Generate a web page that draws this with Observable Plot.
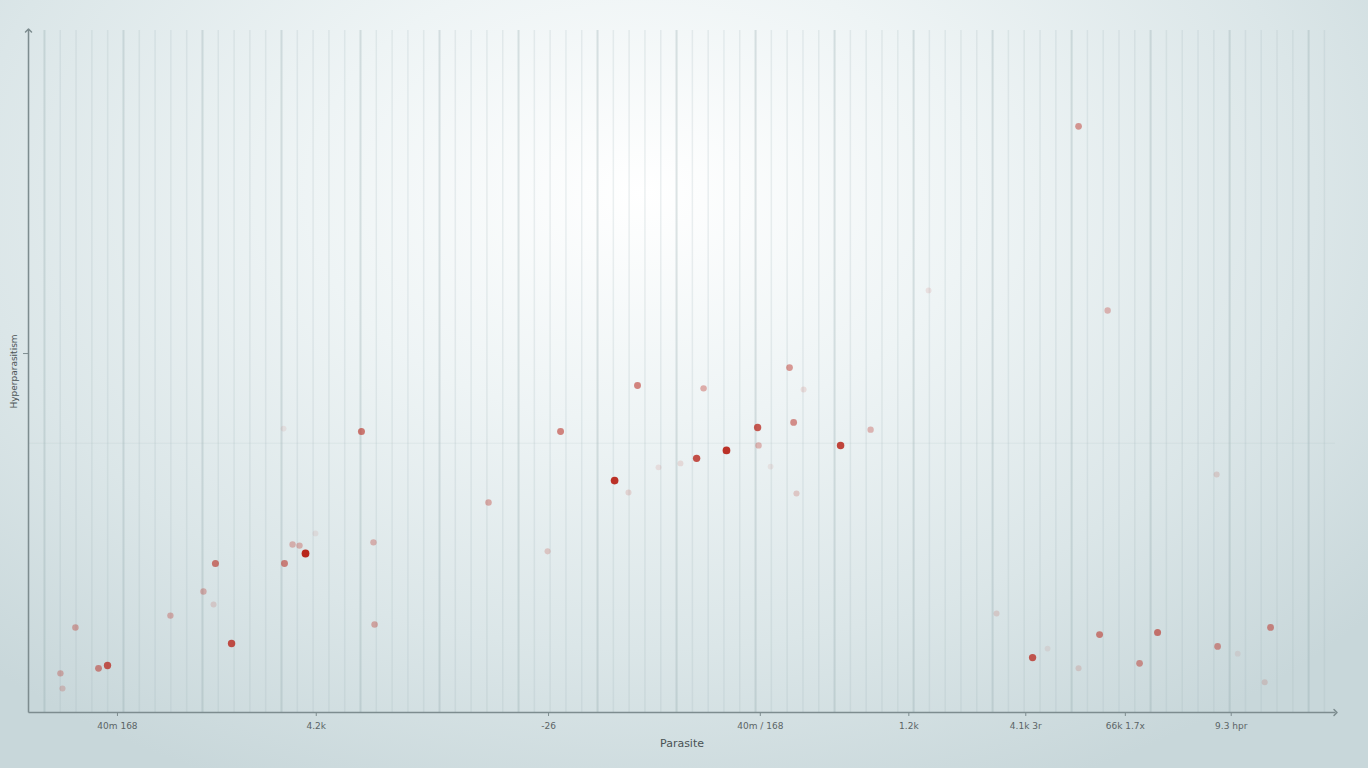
<!DOCTYPE html>
<html>
<head>
<meta charset="utf-8">
<script src="https://cdn.jsdelivr.net/npm/d3@7"></script>
<script src="https://cdn.jsdelivr.net/npm/@observablehq/plot@0.6"></script>
<style>
  html, body { margin: 0; padding: 0; background: #dfe8ea; }
  #chart svg { display: block; }
</style>
</head>
<body>
<div id="chart"></div>
<script>
// ---- data ----
const xValues = [65.44, 67.28, 55.95, 37.53, 41.71, 47.15, 48.04, 20.06, 32.66, 45.13,
  47.41, 52.28, 43.16, 41.27, 45.19, 50.38, 36.08, 36.96, 38.86, 40.25,
  47.59, 45.95, 28.10, 15.13, 74.18, 16.14, 16.52, 15.70, 15.19, 10.82,
  20.82, 31.84, 17.15, 10.06, 10.70, 7.97, 11.84, 20.89, 1.96, 3.99,
  3.42, 1.01, 1.14, 60.25, 62.53, 66.77, 70.44, 69.30, 74.24, 77.59,
  65.44, 77.22, 75.51, 63.48];
const yValues = [1.633, 1.120, 1.176, 0.911, 0.903, 0.961, 0.900, 0.783, 0.783, 0.794,
  0.808, 0.788, 0.730, 0.708, 0.744, 0.744, 0.646, 0.613, 0.683, 0.694,
  0.610, 0.685, 0.585, 0.791, 0.663, 0.465, 0.443, 0.468, 0.415, 0.415,
  0.474, 0.449, 0.499, 0.337, 0.301, 0.270, 0.192, 0.245, 0.237, 0.131,
  0.123, 0.109, 0.067, 0.276, 0.153, 0.217, 0.223, 0.137, 0.184, 0.237,
  0.123, 0.084, 0.164, 0.178];
const weights = [0.45, 0.3, 0.1, 0.55, 0.35, 0.45, 0.12, 0.6, 0.55, 0.75,
  0.5, 0.3, 0.95, 0.8, 0.3, 0.85, 0.95, 0.15, 0.1, 0.12,
  0.2, 0.08, 0.35, 0.08, 0.15, 0.3, 1.0, 0.3, 0.55, 0.6,
  0.3, 0.2, 0.08, 0.3, 0.15, 0.3, 0.8, 0.35, 0.35, 0.75,
  0.5, 0.3, 0.2, 0.15, 0.75, 0.55, 0.6, 0.45, 0.45, 0.5,
  0.15, 0.15, 0.08, 0.08];

const xTickValues = [4.62, 17.2, 31.9, 45.3, 54.7, 62.1, 68.4, 75.1];
const xTickLabels = ["40m 168", "4.2k", "-26", "40m / 168", "1.2k", "4.1k 3r", "66k 1.7x", "9.3 hpr"];
const yTickValues = [1];
const xLabel = "Parasite";
const yLabel = "Hyperparasitism";

const xDomain = [-1.01, 81.7];
const yDomain = [0, 1.9];

const points = xValues.map((x, i) => ({x, y: yValues[i], w: weights[i]}));
const majorGrid = d3.range(0, 81, 5);
const minorGrid = d3.range(-1, 81.5, 1).filter(v => v % 5 !== 0);
const hGrid = [0.75];

const plot = Plot.plot({
  width: 1368,
  height: 768,
  marginLeft: 28,
  marginRight: 33,
  marginTop: 30,
  marginBottom: 56,
  style: {
    background: "radial-gradient(ellipse 70% 85% at 47% 25%, #ffffff 0%, #eef4f5 35%, #dbe6e8 70%, #c8d7da 100%)",
    fontFamily: "DejaVu Sans, sans-serif"
  },
  x: {domain: xDomain},
  y: {domain: yDomain},
  marks: [
    Plot.ruleX(minorGrid, {stroke: "#9fb3b7", strokeOpacity: 0.2, strokeWidth: 1.5}),
    Plot.ruleX(majorGrid, {stroke: "#8ea4a8", strokeOpacity: 0.3, strokeWidth: 2}),
    Plot.ruleY(hGrid, {stroke: "#9fb3b7", strokeOpacity: 0.15}),
    Plot.axisX({
      ticks: xTickValues,
      tickFormat: (d, i) => xTickLabels[i],
      tickSize: 4,
      stroke: "#7d8c8f",
      fill: "#5b6466",
      fontSize: 9,
      label: xLabel,
      labelAnchor: "center",
      labelArrow: "none",
      labelOffset: 34,
      tickPadding: 6
    }),
    Plot.axisY({
      ticks: yTickValues,
      tickFormat: () => "",
      tickSize: 5,
      stroke: "#7d8c8f",
      fill: "#5b6466",
      fontSize: 9,
      label: yLabel,
      labelAnchor: "center",
      labelArrow: "none",
      labelOffset: 18
    }),
    Plot.link([{x1: xDomain[0], y1: yDomain[0], x2: xDomain[1], y2: yDomain[0]}], {
      x1: "x1", y1: "y1", x2: "x2", y2: "y2",
      stroke: "#7d8c8f", strokeWidth: 1.5, markerEnd: "arrow"
    }),
    Plot.link([{x1: xDomain[0], y1: yDomain[0], x2: xDomain[0], y2: yDomain[1]}], {
      x1: "x1", y1: "y1", x2: "x2", y2: "y2",
      stroke: "#7d8c8f", strokeWidth: 1.5, markerEnd: "arrow"
    }),
    Plot.dot(points, {
      x: "x", y: "y",
      r: d => 2.8 + 2.6 * d.w,
      fill: "#b8261b",
      fillOpacity: d => d.w,
      stroke: "none"
    })
  ]
});
plot.querySelectorAll("[aria-label='x-axis label'] text").forEach(t => {
  t.setAttribute("font-size", "11");
  t.setAttribute("fill", "#4a5254");
});
plot.querySelectorAll("[aria-label='y-axis label'] text").forEach(t => {
  t.setAttribute("font-size", "9");
  t.setAttribute("fill", "#4a5254");
});
document.getElementById("chart").append(plot);
</script>
</body>
</html>
